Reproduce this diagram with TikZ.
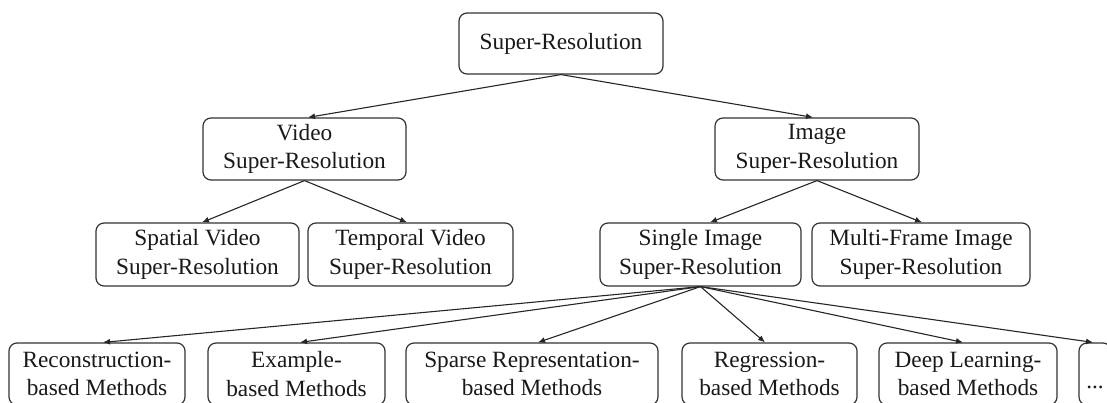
\documentclass[tikz,border=0pt]{standalone}
\usepackage{fontspec}
\setmainfont{Liberation Serif}
\newfontfamily\labelfont{Liberation Serif}
\usetikzlibrary{arrows.meta}
\tikzset{
  box/.style={draw=black!80, line width=1.2pt, rounded corners=8pt, inner sep=0pt,
    align=center, font=\labelfont\fontsize{23.3}{28.5}\selectfont, text=black!90},
  link/.style={draw=black!85, line width=1.1pt, -{Latex[length=7pt,width=6pt]}}
}
\begin{document}
\begin{tikzpicture}[x=1pt, y=-1pt]
\useasboundingbox (0,0) rectangle (1107,403);
\clip (0,0) rectangle (1107,403);
% top level
\node[box, minimum width=204pt, minimum height=61pt] (root) at (561,43.5) {Super-Resolution};
% second level
\node[box, minimum width=203pt, minimum height=62pt] (video) at (304.5,149) {Video\\Super-Resolution};
\node[box, minimum width=204pt, minimum height=62pt] (image) at (817,149) {Image\\Super-Resolution};
% third level
\node[box, minimum width=203pt, minimum height=63pt] (spatial) at (197.5,254.5) {Spatial Video\\Super-Resolution};
\node[box, minimum width=205pt, minimum height=63pt] (temporal) at (410.5,254.5) {Temporal Video\\Super-Resolution};
\node[box, minimum width=201pt, minimum height=63pt] (single) at (700.5,254.5) {Single Image\\Super-Resolution};
\node[box, minimum width=218pt, minimum height=63pt] (multi) at (921,254.5) {Multi-Frame Image\\Super-Resolution};
% method families
\node[box, minimum width=176pt, minimum height=62pt] (recon) at (97,374) {Reconstruction-\\based Methods};
\node[box, minimum width=177pt, minimum height=62pt] (example) at (296.5,374) {Example-\\based Methods};
\node[box, minimum width=252pt, minimum height=62pt] (sparse) at (532,374) {Sparse Representation-\\based Methods};
\node[box, minimum width=175pt, minimum height=62pt] (regress) at (769.5,374) {Regression-\\based Methods};
\node[box, minimum width=178pt, minimum height=62pt] (deep) at (968,374) {Deep Learning-\\based Methods};
\node[box, minimum width=32pt, minimum height=62pt] (more) at (1095,374) {\\...};
% connectors
\draw[link] (root.south) -- ([xshift=3.5pt]video.north);
\draw[link] (root.south) -- ([xshift=-4pt]image.north);
\draw[link] (video.south) -- ([xshift=4.5pt]spatial.north);
\draw[link] (video.south) -- ([xshift=-3.5pt]temporal.north);
\draw[link] (image.south) -- ([xshift=9.5pt]single.north);
\draw[link] (image.south) -- ([xshift=1pt]multi.north);
\draw[link] (single.south) -- ([xshift=6pt]recon.north);
\draw[link] (single.south) -- ([xshift=3.5pt]example.north);
\draw[link] (single.south) -- ([xshift=6pt]sparse.north);
\draw[link] (single.south) -- ([xshift=-4.5pt]regress.north);
\draw[link] (single.south) -- ([xshift=-5pt]deep.north);
\draw[link] (single.south) -- ([xshift=-2pt]more.north);
\end{tikzpicture}
\end{document}
